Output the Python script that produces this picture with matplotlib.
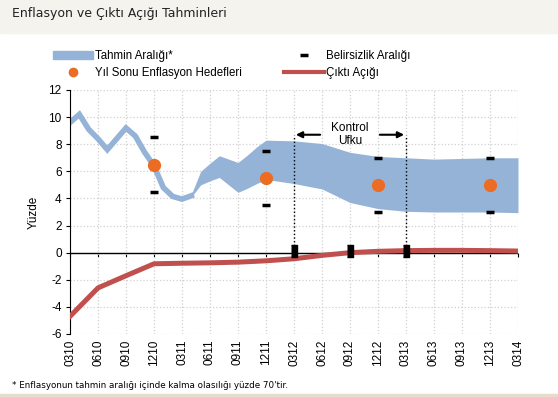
import numpy as np
import matplotlib.pyplot as plt
from matplotlib.patches import Patch, Rectangle
from matplotlib.lines import Line2D

plt.rcParams['font.family'] = ['Liberation Sans', 'DejaVu Sans']
plt.rcParams['axes.unicode_minus'] = False

# months counted from 03/2010
tick_labels = ['0310', '0610', '0910', '1210', '0311', '0611', '0911', '1211', '0312',
               '0612', '0912', '1212', '0313', '0613', '0913', '1213', '0314']

# realised inflation (monthly)
hist_x = [0, 1, 2, 3, 4, 5, 6, 7, 8, 9, 10, 11, 12, 13]
hist_y = [9.6, 10.2, 9.1, 8.4, 7.6, 8.4, 9.2, 8.6, 7.4, 6.4, 4.8, 4.15, 3.95, 4.2]

# forecast range
band_x = [13, 14, 15, 16, 17, 18, 19, 20, 21, 24, 27, 30, 33, 36, 39, 42, 45, 48]
band_hi = [4.3, 6.0, 6.6, 7.15, 6.9, 6.65, 7.2, 7.8, 8.3, 8.25, 8.05, 7.4, 7.1, 7.0, 6.9, 6.95, 7.0, 7.0]
band_lo = [4.1, 5.0, 5.3, 5.55, 5.0, 4.45, 4.75, 5.1, 5.4, 5.1, 4.7, 3.7, 3.25, 3.05, 3.0, 3.0, 3.0, 2.95]

# year-end targets and uncertainty
target_x = [9, 21, 33, 45]
target_y = [6.5, 5.5, 5.0, 5.0]
unc_hi = [8.5, 7.5, 7.0, 7.0]
unc_lo = [4.5, 3.5, 3.0, 3.0]

# output gap (quarterly)
gap_x = [0, 3, 6, 9, 12, 15, 18, 21, 24, 27, 30, 33, 36, 39, 42, 45, 48]
gap_y = [-4.7, -2.6, -1.7, -0.82, -0.78, -0.75, -0.7, -0.6, -0.45, -0.2, 0.0, 0.1, 0.15, 0.17, 0.17, 0.15, 0.12]

# control horizon markers
ctrl_x = [24, 30, 36]
ctrl_y = [0.15, 0.1, 0.15]

blue = '#95b3d7'
orange = '#ec6c24'
red = '#c0504d'

fig = plt.figure(figsize=(5.58, 3.97), dpi=100)
fig.patches.append(Rectangle((0, 1 - 33 / 397), 1, 33 / 397, transform=fig.transFigure,
                             color='#f4f3ee', zorder=0))
fig.patches.append(Rectangle((0, 0), 1, 3 / 397, transform=fig.transFigure,
                             color='#e6dccb', zorder=0))
fig.text(12 / 558, 1 - 14 / 397, 'Enflasyon ve Çıktı Açığı Tahminleri', fontsize=9,
         family='DejaVu Sans', va='center', color='#222222')
fig.text(12 / 558, 1 - 385 / 397, "* Enflasyonun tahmin aralığı içinde kalma olasılığı yüzde 70'tir.",
         fontsize=6.3, family='DejaVu Sans', va='center')

ax = fig.add_axes([70 / 558, 1 - 334 / 397, 448 / 558, 244 / 397])

ax.fill_between(band_x, band_lo, band_hi, color=blue, lw=0, zorder=2)
ax.plot(hist_x, hist_y, color=blue, lw=4, solid_joinstyle='miter', zorder=2)
ax.plot(gap_x, gap_y, color=red, lw=3.6, zorder=4)
ax.axhline(0, color='black', lw=1, zorder=3)

ax.plot(target_x, target_y, 'o', color=orange, ms=8.5, zorder=5)
ax.plot(target_x, unc_hi, '_', color='black', ms=6, mew=2.5, zorder=5)
ax.plot(target_x, unc_lo, '_', color='black', ms=6, mew=2.5, zorder=5)

ax.vlines([ctrl_x[0], ctrl_x[2]], 0, 8.7, colors='black', linestyles=':', lw=1, zorder=5)
ax.plot(ctrl_x, ctrl_y, color='black', ls='none', lw=0, zorder=6,
        marker=[(-0.5, -1), (0.5, -1), (0.5, 1), (-0.5, 1)], ms=8)
ax.text(30, 8.75, 'Kontrol\nUfku', ha='center', va='center', fontsize=8.5, linespacing=1.1)
ax.annotate('', xy=(ctrl_x[0] + 0.2, 8.7), xytext=(26.8, 8.7),
            arrowprops=dict(arrowstyle='-|>', color='black', lw=1.5, mutation_scale=9, shrinkA=0, shrinkB=0))
ax.annotate('', xy=(ctrl_x[2] - 0.2, 8.7), xytext=(33.2, 8.7),
            arrowprops=dict(arrowstyle='-|>', color='black', lw=1.5, mutation_scale=9, shrinkA=0, shrinkB=0))

ax.set_xlim(0, 48)
ax.set_ylim(-6, 12)
ax.set_yticks(np.arange(-6, 13, 2))
ax.set_xticks(np.arange(0, 49, 3))
ax.set_xticklabels(tick_labels, rotation=90)
ax.tick_params(axis='x', length=0, labelsize=8.5, pad=4)
ax.tick_params(axis='y', length=3, labelsize=8.5, pad=3)
ax.grid(True, color='#d0d0d0', ls=':', lw=0.9)
ax.set_axisbelow(True)
for s in ['top', 'right', 'bottom']:
    ax.spines[s].set_visible(False)
ax.set_ylabel('Yüzde', fontsize=8.5, labelpad=6)

sec = ax.secondary_xaxis(6 / 18)
sec.set_xticks(np.arange(0, 49, 3))
sec.tick_params(axis='x', length=3, labelbottom=False, direction='out')
sec.spines['bottom'].set_visible(False)

handles = [Patch(color=blue),
           Line2D([], [], ls='none', marker='o', color=orange, ms=6),
           Line2D([], [], ls='none', marker='_', color='black', ms=6, mew=2.5),
           Line2D([], [], color=red, lw=3)]
labels = ['Tahmin Aralığı*', 'Yıl Sonu Enflasyon Hedefleri', 'Belirsizlik Aralığı', 'Çıktı Açığı']
fig.legend(handles, labels, loc='upper left', bbox_to_anchor=(47 / 558, 1 - 44 / 397),
           ncol=2, frameon=False, fontsize=8.3, borderpad=0, handlelength=3.5,
           handletextpad=0.2, columnspacing=3.6, labelspacing=0.45)

fig.savefig('out.png', dpi=100)
